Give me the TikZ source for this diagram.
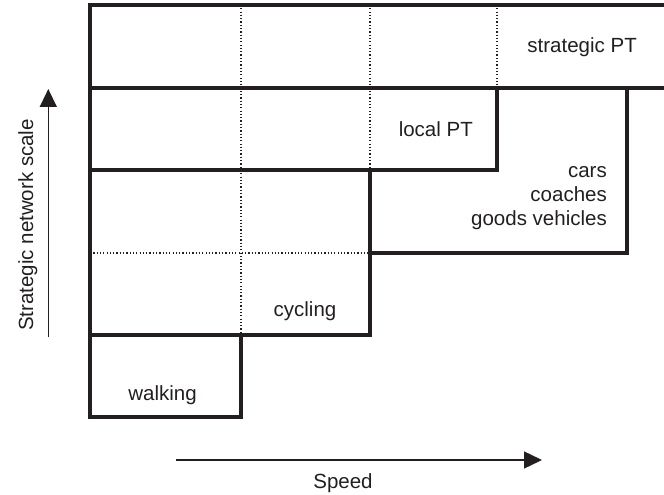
\documentclass[tikz,border=0pt]{standalone}
\usepackage{fontspec}
\setmainfont{Liberation Sans}
\usetikzlibrary{arrows.meta}
\definecolor{ink}{HTML}{231F20}
\begin{document}
\begin{tikzpicture}[x=1bp,y=-1bp,
  thickline/.style={draw=ink,line width=3.3bp,line join=miter},
  dotline/.style={draw=ink,line width=1.2bp,dash pattern=on 1.2bp off 2.1bp},
  axisarrow/.style={draw=ink,line width=1.4bp,-{Triangle[length=18bp,width=17bp]}},
  lbl/.style={inner sep=0pt,text=ink,font=\fontsize{20.5bp}{24bp}\selectfont}]
\useasboundingbox (0,0) rectangle (664,495);
% dotted grid
\draw[dotline] (241,5) -- (241,335);
\draw[dotline] (370,5) -- (370,170);
\draw[dotline] (497,5) -- (497,88);
\draw[dotline] (90,253) -- (370,253);
% thick outlines
\draw[thickline] (664,5) -- (90,5) -- (90,417) -- (241,417) -- (241,335) -- (370,335) -- (370,253) -- (627,253) -- (627,88);
\draw[thickline] (90,88) -- (664,88);
\draw[thickline] (90,170) -- (497,170) -- (497,88);
\draw[thickline] (370,170) -- (370,253);
\draw[thickline] (90,335) -- (241,335);
% labels
\node[lbl,anchor=base east] (spt) at (637,53) {strategic PT};
\node[lbl,anchor=base east] (lpt) at (473,137) {local PT};
\node[lbl,anchor=north east,align=right] (cars) at (607,166) {cars\\coaches\\goods vehicles};
\node[lbl,anchor=base] (cyc) at (305,316.5) {cycling};
\node[lbl,anchor=base] (walk) at (162.5,400.5) {walking};
\node[lbl,anchor=base] (speed) at (343,488) {Speed};
\node[lbl,anchor=base,rotate=90] (scale) at (33,225) {Strategic network scale};
% axes
\coordinate (hs) at (176,460);
\coordinate (he) at (542,460);
\coordinate (vs) at (48.3,337);
\coordinate (ve) at (48.3,89);
\draw[axisarrow] (hs) -- (he);
\draw[axisarrow] (vs) -- (ve);
\end{tikzpicture}
\end{document}
